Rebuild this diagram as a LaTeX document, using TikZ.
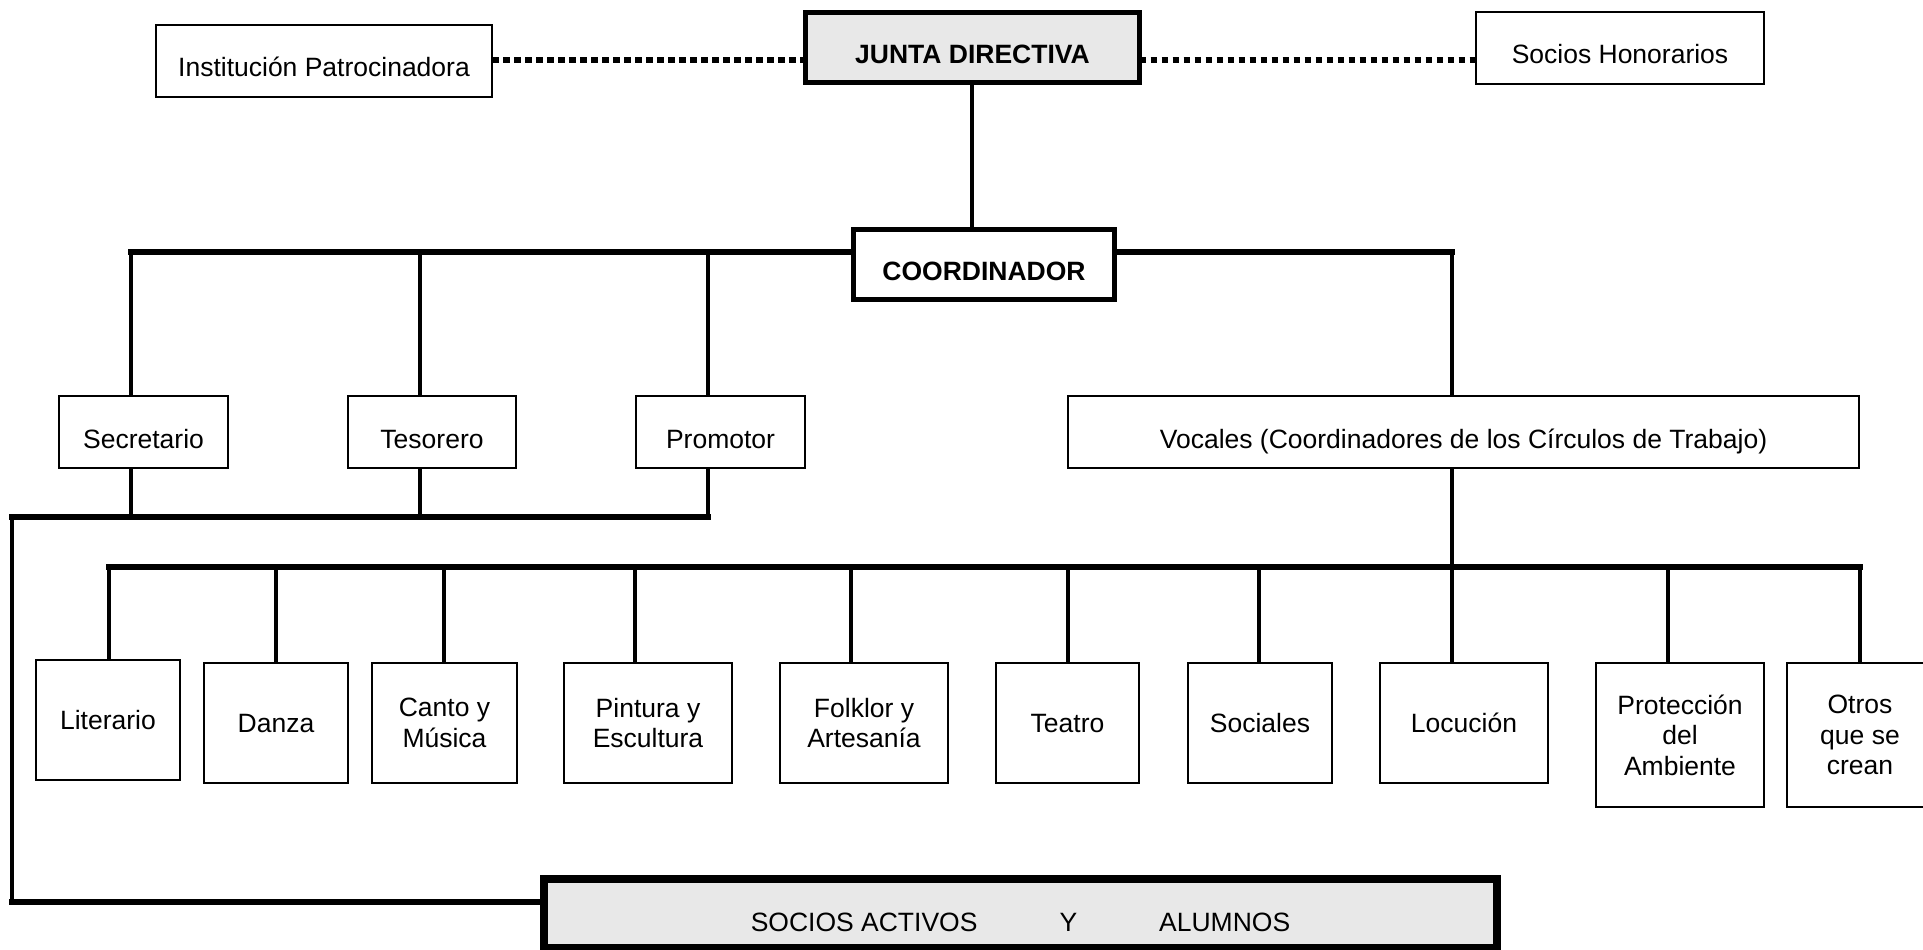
\documentclass[tikz,border=0pt]{standalone}
\usepackage{fontspec}
\setmainfont{Liberation Sans}
\usetikzlibrary{backgrounds}
\definecolor{boxgray}{HTML}{E8E8E8}
\begin{document}
\begin{tikzpicture}[x=1pt,y=-1pt,
  basebox/.style={draw=black, fill=white, line width=2pt, rectangle, inner sep=0pt, outer sep=0pt,
    font=\fontsize{26.5pt}{30.5pt}\selectfont},
  topbox/.style={basebox, text height=32pt, text depth=0pt},
  heavybox/.style={topbox, line width=5pt, font=\fontsize{26.5pt}{30.5pt}\selectfont\bfseries},
  circlebox/.style={basebox, align=center},
  onebox/.style={basebox, text height=19pt, text depth=0pt},
  vline/.style={line width=4.5pt},
  hline/.style={line width=6pt, line cap=rect},
  dotline/.style={line width=6.5pt, dash pattern=on 6.5pt off 4.5pt}
]
\useasboundingbox (0,0) rectangle (1923,950);

% top level
\node[topbox, minimum width=336pt, minimum height=72pt] (inst) at (324,61) {Institución Patrocinadora};
\node[heavybox, fill=boxgray, minimum width=334pt, minimum height=70pt] (junta) at (972.5,47.5) {JUNTA DIRECTIVA};
\node[topbox, minimum width=288pt, minimum height=72pt] (hon) at (1620,48) {Socios Honorarios};
\node[heavybox, minimum width=261pt, minimum height=70pt] (coord) at (984,264.5) {COORDINADOR};

% second level
\node[topbox, minimum width=169pt, minimum height=72pt] (secr) at (143.5,432) {Secretario};
\node[topbox, minimum width=168pt, minimum height=72pt] (teso) at (432,432) {Tesorero};
\node[topbox, minimum width=169pt, minimum height=72pt] (prom) at (720.5,432) {Promotor};
\node[topbox, minimum width=791pt, minimum height=72pt] (voc) at (1463.5,432) {Vocales (Coordinadores de los Círculos de Trabajo)};

% circles
\node[onebox, minimum width=144pt, minimum height=120pt] (lit) at (108,720) {Literario};
\node[onebox, minimum width=144pt, minimum height=120pt] (dan) at (276,723) {Danza};
\node[circlebox, minimum width=145pt, minimum height=120pt] (can) at (444.5,723) {Canto y\\Música};
\node[circlebox, minimum width=168pt, minimum height=120pt] (pin) at (648,723) {Pintura y\\Escultura};
\node[circlebox, minimum width=168pt, minimum height=120pt] (fol) at (864,723) {Folklor y\\Artesanía};
\node[onebox, minimum width=143pt, minimum height=120pt] (tea) at (1067.5,723) {Teatro};
\node[onebox, minimum width=144pt, minimum height=120pt] (soc) at (1260,723) {Sociales};
\node[onebox, minimum width=168pt, minimum height=120pt] (loc) at (1464,723) {Locución};
\node[circlebox, minimum width=168pt, minimum height=144pt] (pro) at (1680,735) {Protección\\del\\Ambiente};
\node[circlebox, minimum width=146pt, minimum height=144pt] (otr) at (1860,735) {Otros\\que se\\crean};

% bottom
\node[basebox, line width=8pt, fill=boxgray, minimum width=953pt, minimum height=69pt,
  text height=36pt, text depth=0pt] (act) at (1020.5,913.5)
  {SOCIOS ACTIVOS\hspace{82pt}Y\hspace{82pt}ALUMNOS};

% coordinates
\coordinate (b1a) at (131,252);
\coordinate (b1b) at (420,252);
\coordinate (b1c) at (708,252);
\coordinate (b1d) at (1452,252);
\coordinate (b2a) at (131,517);
\coordinate (b2b) at (420,517);
\coordinate (b2c) at (708,517);
\coordinate (b2l) at (12,517);
\coordinate (b2z) at (12,902);
\coordinate (b3v) at (1452,567);
\coordinate (t1) at (109,567);
\coordinate (t2) at (276,567);
\coordinate (t3) at (444,567);
\coordinate (t4) at (635,567);
\coordinate (t5) at (851,567);
\coordinate (t6) at (1068,567);
\coordinate (t7) at (1259,567);
\coordinate (t8) at (1452,567);
\coordinate (t9) at (1668,567);
\coordinate (t10) at (1860,567);

\begin{scope}[on background layer]
\fill[white] (0,0) rectangle (1923,950);
% dotted links
\draw[dotline] (inst.east |- 0,60) -- (junta.west |- 0,60);
\draw[dotline] (junta.east |- 0,60) -- (hon.west |- 0,60);
% junta to coordinador
\draw[vline] (junta.south -| 972,0) -- (coord.north -| 972,0);
% coordinador bar
\draw[hline] (b1a) -- (b1d);
\draw[vline] (b1a) -- (b1a |- secr.north);
\draw[vline] (b1b) -- (b1b |- teso.north);
\draw[vline] (b1c) -- (b1c |- prom.north);
\draw[vline] (b1d) -- (b1d |- voc.north);
% officers to socios activos
\draw[vline] (b2a |- secr.south) -- (b2a);
\draw[vline] (b2b |- teso.south) -- (b2b);
\draw[vline] (b2c |- prom.south) -- (b2c);
\draw[hline] (b2l) -- (b2c);
\draw[vline] (b2l) -- (b2z);
\draw[hline] (b2z) -- (b2z -| act.west);
% vocales to circles
\draw[vline] (b3v |- voc.south) -- (b3v);
\draw[hline] (t1) -- (t10);
\draw[vline] (t1) -- (t1 |- lit.north);
\draw[vline] (t2) -- (t2 |- dan.north);
\draw[vline] (t3) -- (t3 |- can.north);
\draw[vline] (t4) -- (t4 |- pin.north);
\draw[vline] (t5) -- (t5 |- fol.north);
\draw[vline] (t6) -- (t6 |- tea.north);
\draw[vline] (t7) -- (t7 |- soc.north);
\draw[vline] (t8) -- (t8 |- loc.north);
\draw[vline] (t9) -- (t9 |- pro.north);
\draw[vline] (t10) -- (t10 |- otr.north);
\end{scope}
\end{tikzpicture}
\end{document}
